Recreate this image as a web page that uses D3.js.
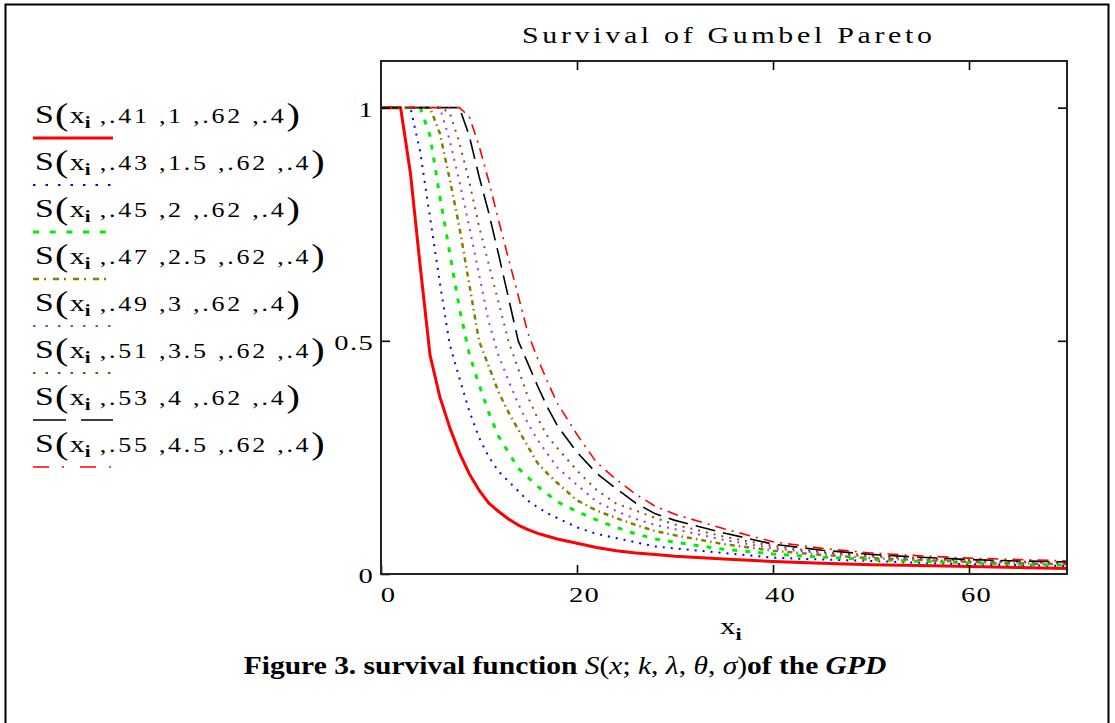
<!DOCTYPE html>
<html>
<head>
<meta charset="utf-8">
<script src="https://cdn.jsdelivr.net/npm/d3@7"></script>
<style>
  body { margin: 0; background: #fff; }
  svg { display: block; }
</style>
</head>
<body>
<div id="chart"></div>
<script>
// x_i sample points, shared by every trace
const xValues = [0, 2, 3, 4, 5, 6, 7, 8, 9, 10, 11, 12, 13, 14, 15, 16, 17, 18, 20, 22, 24, 26, 28, 30, 35, 40, 45, 50, 55, 60, 65, 70];

// survival values, one array per trace
const s41 = [1, 1, 0.86, 0.66, 0.47, 0.38, 0.315, 0.26, 0.215, 0.18, 0.152, 0.134, 0.118, 0.105, 0.095, 0.087, 0.081, 0.075, 0.066, 0.057, 0.05, 0.045, 0.042, 0.038, 0.032, 0.027, 0.023, 0.02, 0.018, 0.016, 0.014, 0.012];
const s43 = [1, 1, 1, 0.905, 0.765, 0.625, 0.493, 0.42, 0.35, 0.293, 0.251, 0.22, 0.199, 0.178, 0.157, 0.143, 0.13, 0.12, 0.1, 0.086, 0.077, 0.068, 0.059, 0.055, 0.045, 0.035, 0.031, 0.028, 0.024, 0.021, 0.019, 0.017];
const s45 = [1, 1, 1, 1, 0.94, 0.81, 0.69, 0.57, 0.473, 0.406, 0.346, 0.295, 0.261, 0.227, 0.207, 0.188, 0.171, 0.155, 0.134, 0.116, 0.1, 0.086, 0.075, 0.068, 0.053, 0.043, 0.036, 0.031, 0.027, 0.024, 0.021, 0.019];
const s47 = [1, 1, 1, 1, 1, 0.945, 0.848, 0.744, 0.622, 0.5, 0.445, 0.39, 0.347, 0.31, 0.273, 0.237, 0.215, 0.195, 0.158, 0.136, 0.12, 0.105, 0.092, 0.083, 0.064, 0.05, 0.041, 0.034, 0.03, 0.026, 0.023, 0.021];
const s49 = [1, 1, 1, 1, 1, 1, 0.931, 0.842, 0.745, 0.643, 0.54, 0.468, 0.415, 0.365, 0.323, 0.287, 0.257, 0.228, 0.191, 0.155, 0.135, 0.118, 0.105, 0.096, 0.073, 0.055, 0.045, 0.037, 0.032, 0.028, 0.025, 0.023];
const s51 = [1, 1, 1, 1, 1, 1, 0.99, 0.925, 0.842, 0.746, 0.664, 0.582, 0.5, 0.44, 0.379, 0.333, 0.295, 0.27, 0.222, 0.18, 0.151, 0.136, 0.12, 0.106, 0.08, 0.06, 0.047, 0.04, 0.034, 0.03, 0.027, 0.024];
const s53 = [1, 1, 1, 1, 1, 1, 1, 1, 0.94, 0.853, 0.774, 0.685, 0.593, 0.5, 0.451, 0.402, 0.357, 0.318, 0.261, 0.216, 0.183, 0.152, 0.129, 0.115, 0.088, 0.064, 0.051, 0.042, 0.036, 0.031, 0.028, 0.026];
const s55 = [1, 1, 1, 1, 1, 1, 1, 1, 0.981, 0.919, 0.842, 0.758, 0.677, 0.597, 0.516, 0.461, 0.412, 0.366, 0.299, 0.239, 0.203, 0.171, 0.145, 0.128, 0.097, 0.069, 0.055, 0.045, 0.039, 0.034, 0.031, 0.028];

// legend arguments S(x_i, k, lambda, theta, sigma)
const kParams = [0.41, 0.43, 0.45, 0.47, 0.49, 0.51, 0.53, 0.55];
const lambdaParams = [1, 1.5, 2, 2.5, 3, 3.5, 4, 4.5];
const thetaParam = 0.62;
const sigmaParam = 0.4;

const xTicks = [0, 20, 40, 60];
const yTicks = [0, 0.5, 1];

const traces = [s41, s43, s45, s47, s49, s51, s53, s55];
const traceColors = ["#ff0000", "#0000ff", "#00ee00", "#808000", "#9933ff", "#8b4a14", "#000000", "#ff0000"];
const traceDashes = [null, "2,6", "5,8", "5,4,1.5,4", "2,6", "2,6", "20,8", "11,6,2,6"];
const legendDashes = [null, "2.5,10", "6,10.7", "6,5,2,7", "2.5,10", "2.5,10", "33,15", "16,13,2,16"];
const traceWidths = [3, 2, 3, 2.5, 2, 2, 1.6, 1.6];

const WIDTH = 1115;
const HEIGHT = 723;
const PLOT = { left: 381, top: 61, right: 1067, bottom: 574 };
const SERIF = "'Liberation Serif', 'Times New Roman', serif";
const STRETCH = 1.3; // the picture's lettering is wider than plain Times

function fmtArg(v) {
  return String(v).replace(/^0\./, ".");
}

const svg = d3
  .select("#chart")
  .append("svg")
  .attr("width", WIDTH)
  .attr("height", HEIGHT)
  .attr("viewBox", `0 0 ${WIDTH} ${HEIGHT}`)
  .style("font-family", SERIF);

function stretchedText(x, y, sx = STRETCH) {
  return svg
    .append("g")
    .attr("transform", `translate(${x},${y}) scale(${sx},1)`)
    .append("text")
    .attr("fill", "#000");
}

// outer frame
svg
  .append("path")
  .attr("d", `M5.5,${HEIGHT} V4.5 H1108.5 V${HEIGHT}`)
  .attr("fill", "none")
  .attr("stroke", "#000")
  .attr("stroke-width", 2);

const xScale = d3.scaleLinear().domain([0, 70]).range([PLOT.left, PLOT.right]);
const yScale = d3.scaleLinear().domain([0, 1.1]).range([PLOT.bottom, PLOT.top]);

svg
  .append("clipPath")
  .attr("id", "plot-clip")
  .append("rect")
  .attr("x", PLOT.left)
  .attr("y", PLOT.top)
  .attr("width", PLOT.right - PLOT.left)
  .attr("height", PLOT.bottom - PLOT.top);

// title
stretchedText(727, 43)
  .attr("text-anchor", "middle")
  .attr("font-size", 23)
  .attr("textLength", 410 / STRETCH)
  .attr("lengthAdjust", "spacing")
  .text("Survival of Gumbel  Pareto");

// curves
const line = d3
  .line()
  .x((d) => xScale(d[0]))
  .y((d) => yScale(d[1]));

const curves = svg.append("g").attr("clip-path", "url(#plot-clip)");
traces.forEach((ys, i) => {
  curves
    .append("path")
    .datum(xValues.map((x, j) => [x, ys[j]]))
    .attr("d", line)
    .attr("fill", "none")
    .attr("stroke", traceColors[i])
    .attr("stroke-width", traceWidths[i])
    .attr("stroke-dasharray", traceDashes[i])
    .attr("stroke-linejoin", "round");
});

// axes: ticks point inward on all four sides
const styleAxis = (g) => {
  g.select(".domain").remove();
  g.selectAll("line").attr("stroke", "#000").attr("stroke-width", 1.6);
  g.selectAll("text")
    .attr("fill", "#000")
    .attr("font-size", 22)
    .attr("font-family", SERIF)
    .attr("letter-spacing", 1);
};

svg
  .append("g")
  .attr("transform", `translate(0,${PLOT.bottom})`)
  .call(d3.axisBottom(xScale).tickValues(xTicks).tickSize(-9).tickPadding(12).tickFormat(d3.format("d")))
  .call(styleAxis)
  .call((g) => g.selectAll("text").attr("transform", `translate(7,0) scale(${STRETCH},1)`));

svg
  .append("g")
  .attr("transform", `translate(0,${PLOT.top})`)
  .call(d3.axisTop(xScale).tickValues(xTicks.filter((t) => t > 0)).tickSize(-9).tickFormat(""))
  .call(styleAxis);

svg
  .append("g")
  .attr("transform", `translate(${PLOT.left},0)`)
  .call(d3.axisLeft(yScale).tickValues(yTicks).tickSize(-9).tickPadding(0).tickFormat((d) => String(d)))
  .call(styleAxis)
  .call((g) => g.selectAll("text").attr("dy", "0.36em").attr("transform", `translate(-7,1) scale(${STRETCH},1)`));

svg
  .append("g")
  .attr("transform", `translate(${PLOT.right},0)`)
  .call(d3.axisRight(yScale).tickValues(yTicks.filter((t) => t > 0)).tickSize(-9).tickFormat(""))
  .call(styleAxis);

svg
  .append("rect")
  .attr("x", PLOT.left)
  .attr("y", PLOT.top)
  .attr("width", PLOT.right - PLOT.left)
  .attr("height", PLOT.bottom - PLOT.top)
  .attr("fill", "none")
  .attr("stroke", "#222")
  .attr("stroke-width", 2);

// x axis label x_i
const xLabel = stretchedText(720, 634).attr("font-size", 24);
xLabel.append("tspan").text("x");
xLabel.append("tspan").attr("font-size", 17).attr("dy", 6).attr("font-weight", "bold").text("i");

// legend
kParams.forEach((k, i) => {
  const base = 123 + i * 47;
  const t = stretchedText(35, base);
  t.append("tspan").attr("font-size", 26).text("S");
  t.append("tspan").attr("font-size", 31).attr("dx", 1).attr("dy", 2).text("(");
  t.append("tspan").attr("font-size", 23).attr("dy", -2).attr("dx", 1).text("x");
  t.append("tspan").attr("font-size", 16).attr("font-weight", "bold").attr("dy", 5).text("i");
  t.append("tspan")
    .attr("font-size", 20)
    .attr("dy", -5)
    .attr("letter-spacing", 2.1)
    .text(` ,${fmtArg(k)} ,${fmtArg(lambdaParams[i])} ,${fmtArg(thetaParam)} ,${fmtArg(sigmaParam)}`);
  t.append("tspan").attr("font-size", 31).attr("dy", 2).text(")");

  svg
    .append("line")
    .attr("x1", 33)
    .attr("x2", 113)
    .attr("y1", base + 15)
    .attr("y2", base + 15)
    .attr("stroke", traceColors[i])
    .attr("stroke-width", traceWidths[i])
    .attr("stroke-dasharray", legendDashes[i]);
});

// caption
const caption = stretchedText(565, 674, 1.18)
  .attr("text-anchor", "middle")
  .attr("font-size", 25)
  .attr("font-weight", "bold");
const plain = (s) => caption.append("tspan").attr("font-weight", "normal").text(s);
const ital = (s) => caption.append("tspan").attr("font-weight", "normal").attr("font-style", "italic").text(s);
caption.append("tspan").text("Figure 3. survival function ");
ital("S");
plain("(");
ital("x");
plain("; ");
ital("k");
plain(", ");
ital("λ");
plain(", ");
ital("θ");
plain(", ");
ital("σ");
plain(")");
caption.append("tspan").text("of the ");
caption.append("tspan").attr("font-style", "italic").text("GPD");
</script>
</body>
</html>
